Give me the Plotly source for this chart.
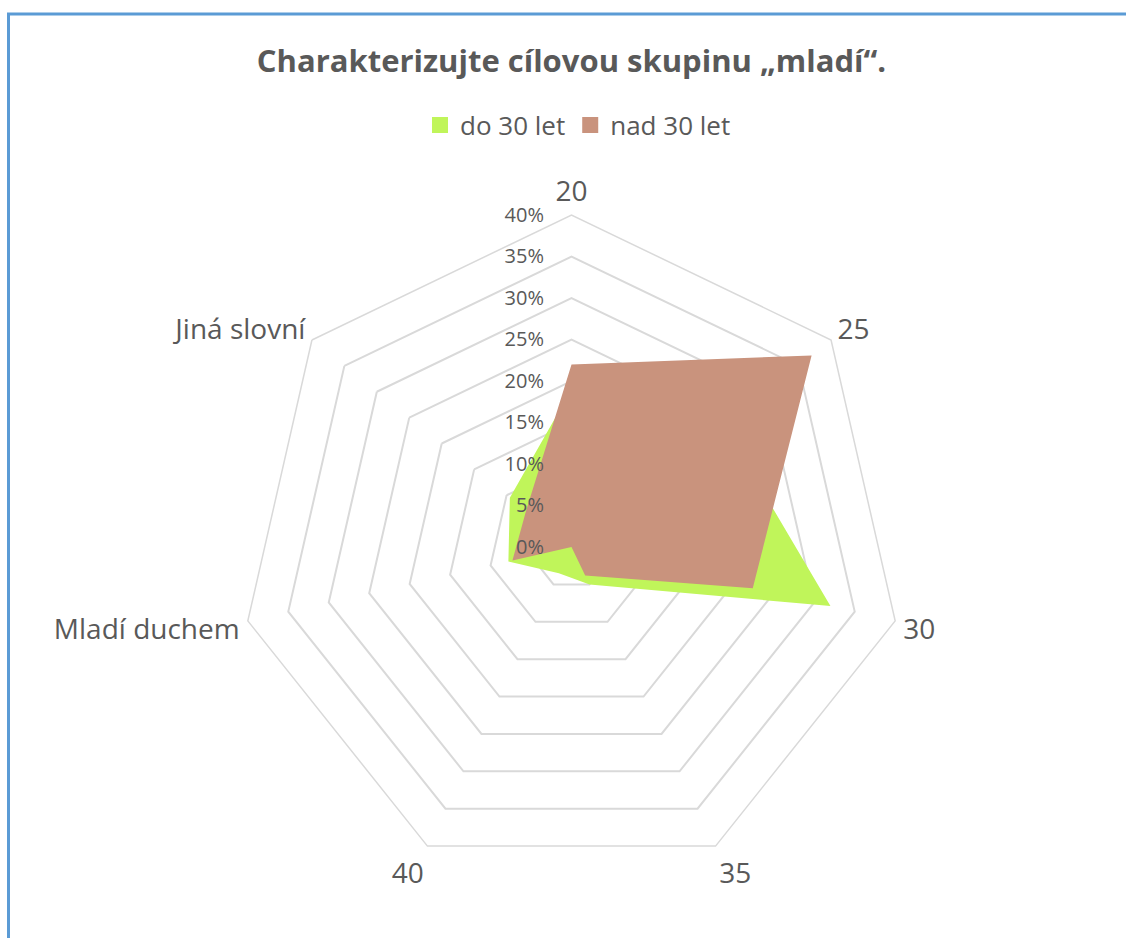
import plotly.graph_objects as go

# Survey categories (age answers and free-text groups)
categories = ["20", "25", "30", "35", "40", "Mladí duchem", "Jiná slovní"]

# Share of answers per respondent group
do_30_let = [0.19, 0.235, 0.32, 0.05, 0.035, 0.078, 0.095]
nad_30_let = [0.22, 0.37, 0.224, 0.038, 0.0, 0.073, 0.07]

radial_ticks = [0, 0.05, 0.10, 0.15, 0.20, 0.25, 0.30, 0.35, 0.40]

GREEN = "#C0F55A"
BROWN = "#C9937D"
TEXT = "#595959"
GRID = "#D9D9D9"
FONT = "Open Sans"


def closed(values):
    return list(values) + [values[0]]


fig = go.Figure()
series = [("do 30 let", do_30_let, GREEN), ("nad 30 let", nad_30_let, BROWN)]
for name, vals, color in series:
    fig.add_trace(go.Scatterpolar(
        r=closed(vals), theta=closed(categories),
        name=name, mode="none", fill="toself", fillcolor=color,
        showlegend=False, legendgroup=name,
    ))
# square legend keys
for name, vals, color in series:
    fig.add_trace(go.Scatterpolar(
        r=[None], theta=[categories[0]], name=name, mode="markers",
        marker=dict(symbol="square", size=16, color=color),
        legendgroup=name, showlegend=True,
    ))

W, H = 1126, 938
cx, cy, R = 571.5, 547.0, 332.0

fig.update_layout(
    width=W, height=H,
    margin=dict(l=0, r=0, t=0, b=0),
    paper_bgcolor="white",
    font=dict(family=FONT, color=TEXT),
    title=dict(
        text="<b>Charakterizujte cílovou skupinu „mladí“.</b>",
        x=cx / W, xanchor="center", y=1 - 61 / H, yanchor="middle",
        font=dict(size=31, color=TEXT, family=FONT),
    ),
    showlegend=True,
    legend=dict(
        orientation="h", x=578 / W, xanchor="center", y=1 - 125 / H, yanchor="middle",
        font=dict(size=26, color=TEXT, family=FONT),
        itemwidth=30, traceorder="normal", itemsizing="trace",
    ),
    polar=dict(
        domain=dict(x=[(cx - R) / W, (cx + R) / W], y=[(H - cy - R) / H, (H - cy + R) / H]),
        bgcolor="white",
        gridshape="linear",
        radialaxis=dict(
            range=[0, 0.4], tickvals=radial_ticks, tickformat=".0%",
            angle=90, tickangle=90, side="counterclockwise",
            showline=False, ticks="outside", ticklen=20, tickcolor="rgba(0,0,0,0)",
            gridcolor=GRID, gridwidth=1.5,
            tickfont=dict(size=20, color=TEXT, family=FONT),
        ),
        angularaxis=dict(
            direction="clockwise", rotation=90,
            showgrid=False, linecolor=GRID, linewidth=1.5,
            ticks="outside", ticklen=2, tickcolor="rgba(0,0,0,0)",
            tickfont=dict(size=28, color=TEXT, family=FONT),
        ),
    ),
    shapes=[
        dict(type="line", xref="paper", yref="paper",
             x0=8.5 / W, x1=8.5 / W, y0=0, y1=1 - 13 / H,
             line=dict(color="#5B9BD5", width=3)),
        dict(type="line", xref="paper", yref="paper",
             x0=7 / W, x1=1, y0=1 - 14 / H, y1=1 - 14 / H,
             line=dict(color="#5B9BD5", width=3)),
    ],
)

fig.write_html("out.html")
